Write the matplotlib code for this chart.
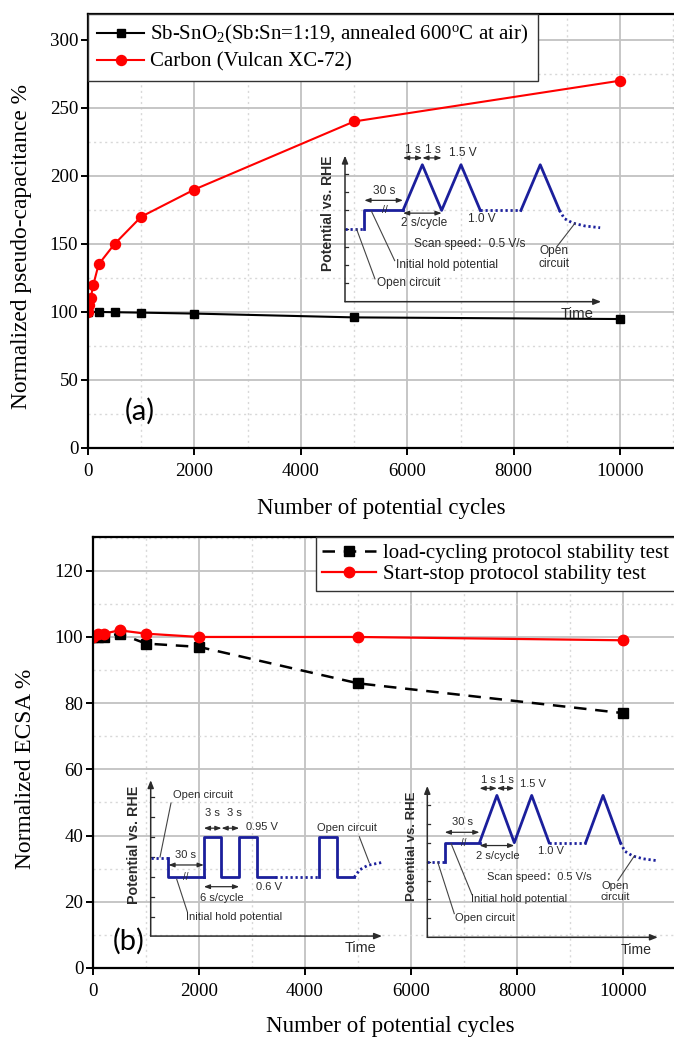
import matplotlib.pyplot as plt
from matplotlib.ticker import MultipleLocator

plt.rcParams['font.family'] = ['Liberation Serif', 'DejaVu Serif']
plt.rcParams['mathtext.fontset'] = 'custom'
plt.rcParams['mathtext.rm'] = 'Liberation Serif'
plt.rcParams['mathtext.default'] = 'regular'

# (a) pseudo-capacitance vs cycles
cyc_sb = [0, 200, 500, 1000, 2000, 5000, 10000]
cap_sb = [100, 100, 99.8, 99.5, 98.8, 96, 94.8]
cyc_c = [0, 25, 50, 100, 200, 500, 1000, 2000, 5000, 10000]
cap_c = [100, 105, 110, 120, 135, 150, 170, 190, 240, 270]
label_sb = 'Sb-SnO$_2$(Sb:Sn=1:19, annealed 600$^o$C at air)'
label_c = 'Carbon (Vulcan XC-72)'

# (b) ECSA vs cycles
cyc_b = [0, 100, 200, 500, 1000, 2000, 5000, 10000]
ecsa_load = [100, 100, 100, 101, 98, 97, 86, 77]
ecsa_ss = [100, 101, 101, 102, 101, 100, 100, 99]
label_load = 'load-cycling protocol stability test'
label_ss = 'Start-stop protocol stability test'

# schematic: start-stop (triangle) protocol, time in s, potential in V
cv_ocv_t = [0, 1]
cv_ocv_v = [0.8, 0.8]
cv_hold_t = [1, 1, 3]
cv_hold_v = [0.8, 1.0, 1.0]
cv_scan_t = [3, 4, 5, 6, 7]
cv_scan_v = [1.0, 1.5, 1.0, 1.5, 1.0]
cv_gap_t = [7, 9.1]
cv_gap_v = [1.0, 1.0]
cv_last_t = [9.1, 10.1, 11.1]
cv_last_v = [1.0, 1.5, 1.0]
cv_tail_t = [11.1, 11.35, 11.8, 12.4, 13.2]
cv_tail_v = [1.0, 0.91, 0.86, 0.83, 0.81]

# schematic: load-cycling (square) protocol
sq_ocv_t = [0, 3]
sq_ocv_v = [0.77, 0.77]
sq_hold_t = [3, 3, 9]
sq_hold_v = [0.77, 0.6, 0.6]
sq_pulse_t = [9, 9, 12, 12, 15, 15, 18, 18, 21]
sq_pulse_v = [0.6, 0.95, 0.95, 0.6, 0.6, 0.95, 0.95, 0.6, 0.6]
sq_gap_t = [21, 28.5]
sq_gap_v = [0.6, 0.6]
sq_last_t = [28.5, 28.5, 31.5, 31.5, 34.5]
sq_last_v = [0.6, 0.95, 0.95, 0.6, 0.6]
sq_tail_t = [34.5, 35.4, 36.8, 38.2, 39.2]
sq_tail_v = [0.6, 0.665, 0.705, 0.72, 0.73]

W, H = 674, 1038
SANS = ['Liberation Sans', 'Noto Sans CJK SC']
BLUE = '#1b1f9c'
INK = '#2b2b2b'
DOT = (0, (0.8, 1.0))

fig = plt.figure(figsize=(W / 100, H / 100), dpi=100)


def style_main(ax, ymajor, ylim, xmax):
    ax.set_xlim(0, xmax)
    ax.set_ylim(*ylim)
    ax.xaxis.set_major_locator(MultipleLocator(2000))
    ax.xaxis.set_minor_locator(MultipleLocator(1000))
    ax.yaxis.set_major_locator(MultipleLocator(ymajor))
    ax.yaxis.set_minor_locator(MultipleLocator(ymajor / 2))
    ax.set_axisbelow(True)
    ax.grid(True, which='major', color='#c2c2c2', lw=1.3)
    ax.grid(True, which='minor', color='#d8d8d8', lw=1.0, ls=(0, (1.5, 2.5)))
    ax.tick_params(which='major', direction='out', length=5, width=1.4, labelsize=13.6)
    ax.tick_params(which='minor', length=0)
    ax.tick_params(axis='x', pad=6)
    ax.tick_params(axis='y', pad=2)
    for s in ax.spines.values():
        s.set_linewidth(1.6)


def schematic_axes(x0, y0, sx, sy, xlim, ylim):
    left = (x0 + xlim[0] * sx) / W
    width = (xlim[1] - xlim[0]) * sx / W
    bottom = 1 - (y0 - ylim[0] * sy) / H
    height = (ylim[1] - ylim[0]) * sy / H
    ax = fig.add_axes([left, bottom, width, height])
    ax.set_xlim(*xlim)
    ax.set_ylim(*ylim)
    ax.axis('off')
    return ax


def frame_arrows(ax, t_end, v_base, v_top, ticks, tick_len):
    ap = dict(arrowstyle='-|>,head_length=0.45,head_width=0.18', color=INK,
              lw=1.1, shrinkA=0, shrinkB=0)
    ax.annotate('', xy=(0, v_top), xytext=(0, v_base), arrowprops=ap)
    ax.annotate('', xy=(t_end, v_base), xytext=(0, v_base), arrowprops=ap)
    for v in ticks:
        ax.plot([0, tick_len], [v, v], color=INK, lw=0.9)


def span(ax, t0, t1, v):
    ax.annotate('', xy=(t1, v), xytext=(t0, v),
                arrowprops=dict(arrowstyle='<|-|>,head_length=0.35,head_width=0.13',
                                color=INK, lw=0.9, shrinkA=0, shrinkB=0))


def txt(ax, t, v, s, fs, **kw):
    ax.text(t, v, s, ha='center', va='center', fontsize=fs, color=INK,
            family=SANS, **kw)


def leader(ax, p0, p1):
    ax.plot([p0[0], p1[0]], [p0[1], p1[1]], color='#444444', lw=0.8)


def draw_cv(ax, fs, tick_len):
    frame_arrows(ax, 13.25, 0, 1.6, [0.2, 0.4, 0.6, 0.8, 1.0, 1.2, 1.4], tick_len)
    ax.plot(cv_ocv_t, cv_ocv_v, color=BLUE, lw=2, ls=DOT)
    ax.plot(cv_hold_t, cv_hold_v, color=BLUE, lw=2)
    ax.plot(cv_scan_t, cv_scan_v, color=BLUE, lw=2)
    ax.plot(cv_gap_t, cv_gap_v, color=BLUE, lw=2, ls=DOT)
    ax.plot(cv_last_t, cv_last_v, color=BLUE, lw=2)
    ax.plot(cv_tail_t, cv_tail_v, color=BLUE, lw=2, ls=DOT)
    txt(ax, 2.07, 1.0, '//', fs - 1)
    txt(ax, 3.53, 1.66, '1 s', fs)
    txt(ax, 4.57, 1.66, '1 s', fs)
    span(ax, 3, 4, 1.575)
    span(ax, 4, 5, 1.575)
    txt(ax, 6.07, 1.625, '1.5 V', fs)
    txt(ax, 2.05, 1.215, '30 s', fs)
    span(ax, 1, 3, 1.11)
    txt(ax, 4.07, 0.86, '2 s/cycle', fs)
    span(ax, 3, 5, 0.97)
    txt(ax, 7.1, 0.91, '1.0 V', fs)
    txt(ax, 6.45, 0.637, 'Scan speed：0.5 V/s', fs)
    txt(ax, 5.3, 0.40, 'Initial hold potential', fs)
    leader(ax, (2.57, 0.45), (1.37, 0.99))
    txt(ax, 3.3, 0.20, 'Open circuit', fs)
    leader(ax, (1.55, 0.25), (0.6, 0.795))
    txt(ax, 10.8, 0.48, 'Open\ncircuit', fs, linespacing=1.1)
    leader(ax, (10.95, 0.60), (11.9, 0.86))
    txt(ax, 12.0, -0.13, 'Time', fs + 2.2)
    txt(ax, -0.86, 0.965, 'Potential vs. RHE', fs + 1.5, rotation=90,
        fontweight='bold')


def draw_sq(ax, fs, tick_len):
    vb = 0.086
    frame_arrows(ax, 39.2, vb, 1.45,
                 [0.25, 0.425, 0.6, 0.775, 0.95, 1.125, 1.3], tick_len)
    ax.plot(sq_ocv_t, sq_ocv_v, color=BLUE, lw=2, ls=DOT)
    ax.plot(sq_hold_t, sq_hold_v, color=BLUE, lw=2)
    ax.plot(sq_pulse_t, sq_pulse_v, color=BLUE, lw=2)
    ax.plot(sq_gap_t, sq_gap_v, color=BLUE, lw=2, ls=DOT)
    ax.plot(sq_last_t, sq_last_v, color=BLUE, lw=2)
    ax.plot(sq_tail_t, sq_tail_v, color=BLUE, lw=2, ls=DOT)
    txt(ax, 6.0, 0.6, '//', fs - 1)
    txt(ax, 8.86, 1.32, 'Open circuit', fs)
    leader(ax, (3.44, 1.25), (1.58, 0.778))
    txt(ax, 10.46, 1.16, '3 s', fs)
    txt(ax, 14.17, 1.16, '3 s', fs)
    span(ax, 9, 12, 1.03)
    span(ax, 12, 15, 1.03)
    txt(ax, 18.81, 1.037, '0.95 V', fs)
    txt(ax, 5.98, 0.795, '30 s', fs)
    span(ax, 3, 9, 0.708)
    txt(ax, 12.08, 0.419, '6 s/cycle', fs)
    span(ax, 9, 15, 0.518)
    txt(ax, 20.05, 0.518, '0.6 V', fs)
    txt(ax, 14.08, 0.255, 'Initial hold potential', fs)
    leader(ax, (6.2, 0.30), (4.41, 0.583))
    txt(ax, 33.27, 1.03, 'Open circuit', fs)
    leader(ax, (35.36, 0.955), (37.05, 0.728))
    txt(ax, 35.6, -0.02, 'Time', fs + 2.4)
    txt(ax, -2.83, 0.883, 'Potential vs. RHE', fs + 2.3, rotation=90,
        fontweight='bold')


# ---- panel (a)
ax1 = fig.add_axes([88 / W, 1 - 448 / H, (675.5 - 88) / W, 434 / H])
style_main(ax1, 50, (0, 319), 11040)
ax1.plot(cyc_sb, cap_sb, '-s', color='black', lw=1.5, ms=6.2, label=label_sb)
ax1.plot(cyc_c, cap_c, '-o', color='#ff0000', lw=1.5, ms=7.2, label=label_c)
ax1.set_xlabel('Number of potential cycles', fontsize=16.5, va='center')
ax1.xaxis.set_label_coords(0.5, -0.139)
ax1.set_ylabel('Normalized pseudo-capacitance %', fontsize=16.8, va='center')
ax1.yaxis.set_label_coords(-0.1135, 0.464)
leg1 = ax1.legend(loc='upper left', bbox_to_anchor=(0, 1), borderaxespad=0,
                  fontsize=15, fancybox=False, edgecolor='#333333',
                  framealpha=1, handlelength=2.25, handletextpad=0.3,
                  labelspacing=0.28, borderpad=0.45)
leg1.get_frame().set_linewidth(1.0)
fig.text(140.3 / W, 1 - 410.8 / H, '(a)', ha='center', va='center',
         fontsize=21, family=['Lato', 'DejaVu Sans'])

# ---- panel (b)
ax2 = fig.add_axes([93 / W, 1 - 968 / H, (675.5 - 93) / W, 431 / H])
style_main(ax2, 20, (0, 130.2), 10990)
ax2.plot(cyc_b, ecsa_load, color='black', lw=1.8, dashes=(5, 3.5), marker='s',
         ms=6.8, label=label_load)
ax2.plot(cyc_b, ecsa_ss, '-o', color='#ff0000', lw=1.6, ms=7.5, label=label_ss)
ax2.set_xlabel('Number of potential cycles', fontsize=16.5, va='center')
ax2.xaxis.set_label_coords(0.511, -0.136)
ax2.set_ylabel('Normalized ECSA %', fontsize=16.8, va='center')
ax2.yaxis.set_label_coords(-0.1157, 0.462)
leg2 = ax2.legend(loc='upper left', bbox_to_anchor=((316 - 93) / 582.5, 1),
                  borderaxespad=0, fontsize=15, fancybox=False,
                  edgecolor='#333333', framealpha=1, handlelength=2.6,
                  handletextpad=0.3, labelspacing=0.1, borderpad=0.3)
leg2.get_frame().set_linewidth(1.0)
fig.text(128.5 / W, 1 - 941 / H, '(b)', ha='center', va='center',
         fontsize=21, family=['Lato', 'DejaVu Sans'])

# ---- schematics
ax_in1 = schematic_axes(345, 301.7, 19.33, 91.3, (-1.5, 14.0), (-0.35, 1.85))
draw_cv(ax_in1, 8.6, 0.15)
ax_in2 = schematic_axes(427.3, 937.3, 17.4, 94.6, (-1.5, 14.0), (-0.35, 1.85))
draw_cv(ax_in2, 8.0, 0.17)
ax_in3 = schematic_axes(150.7, 945.9, 5.9, 114.3, (-4, 40.5), (-0.12, 1.55))
draw_sq(ax_in3, 8.0, 0.5)

fig.savefig('out.png', dpi=100)
